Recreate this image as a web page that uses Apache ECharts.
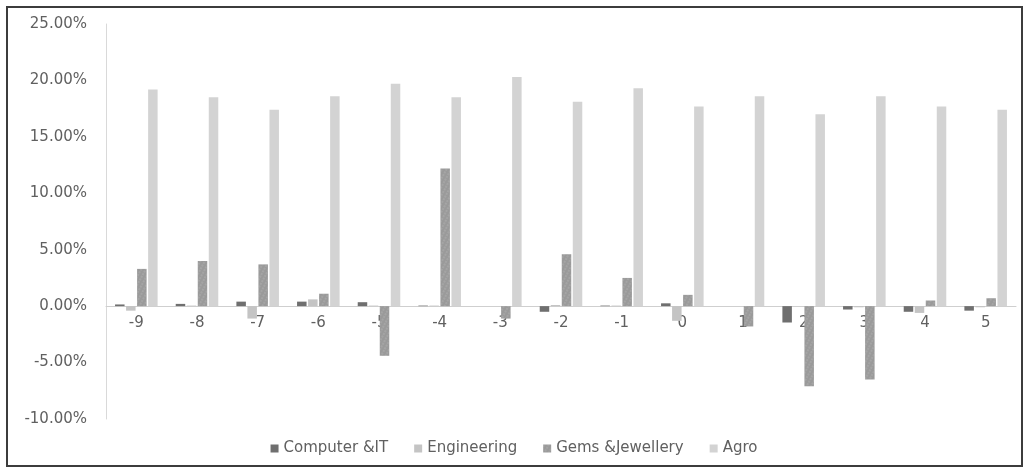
<!DOCTYPE html>
<html>
<head>
<meta charset="utf-8">
<script src="https://cdn.jsdelivr.net/npm/echarts@6/dist/echarts.min.js"></script>
<style>
  html, body { margin: 0; padding: 0; background: #ffffff; }
  #chart { width: 1028px; height: 471px; }
</style>
</head>
<body>
<div id="chart"></div>
<script>
// Event-window days on the x axis
const categories = ['-9', '-8', '-7', '-6', '-5', '-4', '-3', '-2', '-1', '0', '1', '2', '3', '4', '5'];

// Sector returns, in percent
const computerIT = [0.15, 0.2, 0.4, 0.4, 0.35, 0.05, 0, -0.5, 0.05, 0.25, 0, -1.45, -0.3, -0.5, -0.4];
const engineering = [-0.4, 0.05, -1.1, 0.6, 0.05, 0.05, 0, 0.1, 0.05, -1.3, 0, 0, -0.1, -0.6, -0.1];
const gemsJewellery = [3.3, 4.0, 3.7, 1.1, -4.4, 12.2, -1.1, 4.6, 2.5, 1.0, -1.8, -7.1, -6.5, 0.5, 0.7];
const agro = [19.2, 18.5, 17.4, 18.6, 19.7, 18.5, 20.3, 18.1, 19.3, 17.7, 18.6, 17.0, 18.6, 17.7, 17.4];

const seriesNames = ['Computer &IT', 'Engineering', 'Gems &Jewellery', 'Agro'];

// y-axis range
const yMin = -10;
const yMax = 25;
const yStep = 5;

const font = '"DejaVu Sans", "Open Sans", sans-serif';
const chart = echarts.init(document.getElementById('chart'), null, { renderer: 'canvas' });

const gridTop = 24;
const gridBottom = 52;
const plotHeight = 471 - gridTop - gridBottom;
// lift the category axis from the plot's bottom edge up to the 0% line
const zeroLift = plotHeight * (0 - yMin) / (yMax - yMin);

const barBase = { type: 'bar', barWidth: 9.5, barGap: '16%' };

chart.setOption({
  animation: false,
  backgroundColor: '#ffffff',
  textStyle: { fontFamily: font },
  graphic: [{
    type: 'rect',
    shape: { x: 7, y: 7, width: 1015, height: 459 },
    style: { fill: 'none', stroke: '#3c3c3c', lineWidth: 2 },
    silent: true
  }],
  legend: {
    bottom: 10,
    left: 'center',
    itemWidth: 8,
    itemHeight: 8,
    itemGap: 26,
    icon: 'rect',
    textStyle: { fontSize: 15, color: '#606060', fontFamily: font },
    data: seriesNames
  },
  grid: { left: 106, right: 12, top: gridTop, bottom: gridBottom, containLabel: false },
  xAxis: {
    type: 'category',
    data: categories,
    offset: -zeroLift,
    axisLine: { onZero: false, lineStyle: { color: '#cfcfcf', width: 1 } },
    axisTick: { show: false },
    axisLabel: { color: '#606060', fontSize: 15, margin: 9, fontFamily: font }
  },
  yAxis: {
    type: 'value',
    min: yMin,
    max: yMax,
    interval: yStep,
    axisLine: { show: true, lineStyle: { color: '#d9d9d9', width: 1 } },
    axisTick: { show: false },
    splitLine: { show: false },
    axisLabel: {
      color: '#606060',
      fontSize: 15,
      margin: 19,
      fontFamily: font,
      formatter: v => v.toFixed(2) + '%'
    }
  },
  series: [
    Object.assign({}, barBase, {
      name: seriesNames[0], data: computerIT,
      itemStyle: { color: '#6f6f6f' }
    }),
    Object.assign({}, barBase, {
      name: seriesNames[1], data: engineering,
      itemStyle: { color: '#c4c4c4' }
    }),
    Object.assign({}, barBase, {
      name: seriesNames[2], data: gemsJewellery,
      itemStyle: {
        color: '#9a9a9a',
        decal: {
          symbol: 'rect',
          symbolSize: 0.6,
          color: 'rgba(255,255,255,0.35)',
          dashArrayX: [[2, 2]],
          dashArrayY: [2, 1],
          rotation: 0.5
        }
      }
    }),
    Object.assign({}, barBase, {
      name: seriesNames[3], data: agro,
      itemStyle: { color: '#d3d3d3' }
    })
  ]
});
</script>
</body>
</html>
